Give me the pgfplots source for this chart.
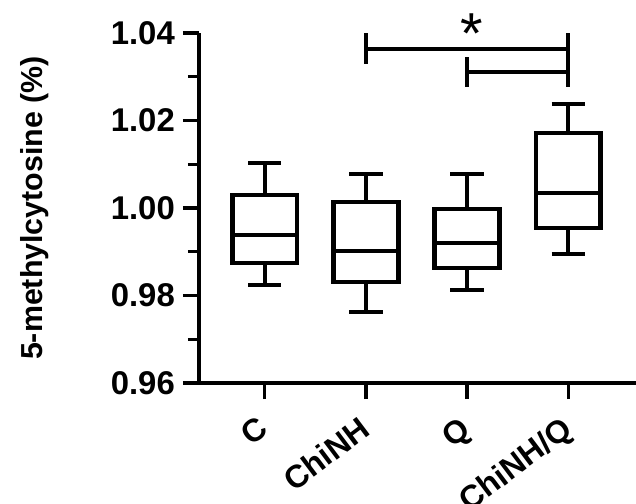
\documentclass[border=0pt]{standalone}
\usepackage{fontspec}
\setmainfont{Liberation Sans}
\usepackage{pgfplots}
\pgfplotsset{compat=1.18}

\begin{document}
\begin{tikzpicture}
\begin{axis}[
  name=ax,
  scale only axis, width=437bp, height=350bp,
  xmin=-0.65, xmax=3.67, ymin=0.96, ymax=1.04,
  clip=false,
  axis x line*=bottom, axis y line*=left,
  axis line style={-, line width=3.3bp, black},
  xtick={0,1,2,3}, xticklabels={C,ChiNH,Q,ChiNH/Q},
  ytick={0.96,0.98,1.00,1.02,1.04},
  minor ytick={0.97,0.99,1.01,1.03},
  tick align=outside, major tick length=16bp, minor tick length=11bp,
  tick style={black, line width=3.3bp},
  /pgf/number format/assume math mode=true,
  yticklabel style={font=\bfseries\fontsize{33}{36}\selectfont, inner sep=8bp,
    /pgf/number format/.cd, fixed, fixed zerofill, precision=2},
  xticklabel style={font=\bfseries\fontsize{32}{36}\selectfont, rotate=37,
    anchor=north east, inner sep=0pt, xshift=-16bp, yshift=-8bp},
  ylabel={5-methylcytosine (\%)},
  ylabel style={font=\bfseries\fontsize{30.5}{33}\selectfont, at={(axis description cs:-0.375,0.5)}, rotate=0, anchor=center},
  bx/.style={black, line width=4.5bp, no marks, unbounded coords=jump},
]
% C : box, then median, whiskers and caps
\addplot[bx] coordinates {(-0.32,0.9874) (0.32,0.9874) (0.32,1.0030) (-0.32,1.0030)} -- cycle;
\addplot[bx] coordinates {(-0.32,0.9938) (0.32,0.9938) (nan,nan)
  (0,1.0030) (0,1.0103) (nan,nan) (-0.165,1.0103) (0.165,1.0103) (nan,nan)
  (0,0.9874) (0,0.9824) (nan,nan) (-0.165,0.9824) (0.165,0.9824)};
% ChiNH
\addplot[bx] coordinates {(0.68,0.9831) (1.32,0.9831) (1.32,1.0014) (0.68,1.0014)} -- cycle;
\addplot[bx] coordinates {(0.68,0.9902) (1.32,0.9902) (nan,nan)
  (1,1.0014) (1,1.0078) (nan,nan) (0.835,1.0078) (1.165,1.0078) (nan,nan)
  (1,0.9831) (1,0.9762) (nan,nan) (0.835,0.9762) (1.165,0.9762)};
% Q
\addplot[bx] coordinates {(1.68,0.9863) (2.32,0.9863) (2.32,0.9998) (1.68,0.9998)} -- cycle;
\addplot[bx] coordinates {(1.68,0.9920) (2.32,0.9920) (nan,nan)
  (2,0.9998) (2,1.0078) (nan,nan) (1.835,1.0078) (2.165,1.0078) (nan,nan)
  (2,0.9863) (2,0.9813) (nan,nan) (1.835,0.9813) (2.165,0.9813)};
% ChiNH/Q
\addplot[bx] coordinates {(2.68,0.9954) (3.32,0.9954) (3.32,1.0171) (2.68,1.0171)} -- cycle;
\addplot[bx] coordinates {(2.68,1.0034) (3.32,1.0034) (nan,nan)
  (3,1.0171) (3,1.0238) (nan,nan) (2.835,1.0238) (3.165,1.0238) (nan,nan)
  (3,0.9954) (3,0.9895) (nan,nan) (2.835,0.9895) (3.165,0.9895)};

% significance brackets
\addplot[bx, line width=4bp] coordinates {(1,1.0400) (1,1.0329) (nan,nan)
  (1,1.0363) (3,1.0363) (nan,nan) (3,1.0400) (3,1.0277) (nan,nan)
  (2,1.0345) (2,1.0277) (nan,nan) (2,1.0311) (3,1.0311)};
\node[font=\fontsize{58}{58}\selectfont, inner sep=0pt] at (axis cs:2.05,1.0398) {*};
\end{axis}
\pgfresetboundingbox
\path[use as bounding box] (ax.south west) ++(-199bp,-121bp) rectangle ++(636bp,504bp);
\end{tikzpicture}
\end{document}
